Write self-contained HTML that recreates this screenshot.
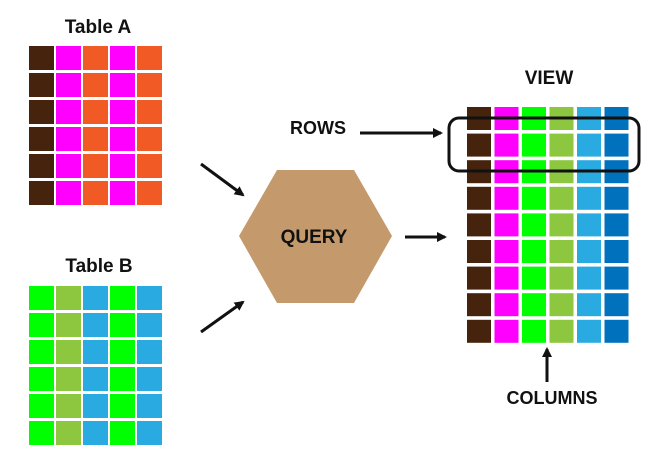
<!DOCTYPE html>
<html><head><style>body{margin:0;background:#fff}svg{display:block}text{font-family:"Liberation Sans",sans-serif;font-weight:bold;fill:#111}</style></head>
<body>
<svg width="672" height="450" viewBox="0 0 672 450" xmlns="http://www.w3.org/2000/svg">
<defs><marker id="a" markerWidth="10" markerHeight="10" refX="8" refY="5" orient="auto" markerUnits="userSpaceOnUse"><path d="M0,0 L10,5 L0,10 Z" fill="#111"/></marker></defs>
<g id="ta"></g><g id="tb"></g><g id="tv"></g>
<text x="98" y="33" font-size="19" text-anchor="middle">Table A</text>
<text x="99" y="272" font-size="19" text-anchor="middle">Table B</text>
<text x="549" y="84" font-size="19" text-anchor="middle">VIEW</text>
<text x="318" y="134" font-size="18" text-anchor="middle">ROWS</text>
<text x="552" y="404" font-size="18" text-anchor="middle">COLUMNS</text>
<polygon points="239,236 277,170 354,170 392,236 354,303 277,303" fill="#c49a6c"/>
<text x="314" y="243" font-size="19" text-anchor="middle">QUERY</text>
<g stroke="#111" stroke-width="3" marker-end="url(#a)">
<line x1="201" y1="164" x2="243" y2="195"/>
<line x1="201" y1="332" x2="243" y2="302"/>
<line x1="405" y1="237" x2="445" y2="237"/>
<line x1="360" y1="133" x2="441" y2="133"/>
<line x1="547" y1="382" x2="547" y2="349"/>
</g>
<rect x="449" y="118" width="190" height="53" rx="10" fill="none" stroke="#111" stroke-width="3"/>
</svg>
<script>
const ns="http://www.w3.org/2000/svg";
function grid(id,x0,y0,px,py,w,h,rows,cols){const g=document.getElementById(id);for(let r=0;r<rows;r++)cols.forEach((c,i)=>{const e=document.createElementNS(ns,"rect");e.setAttribute("x",x0+i*px);e.setAttribute("y",y0+r*py);e.setAttribute("width",w);e.setAttribute("height",h);e.setAttribute("fill",c);g.appendChild(e);});}
grid("ta",29,46,27,27,25,24,6,["#45230d","#ff00ff","#f15a24","#ff00ff","#f15a24"]);
grid("tb",29,286,27,27,25,24,6,["#00ff00","#8dc63f","#29abe2","#00ff00","#29abe2"]);
grid("tv",467,107,27.5,26.6,24,23,9,["#45230d","#ff00ff","#00ff00","#8dc63f","#29abe2","#0071bc"]);
</script>
</body></html>
